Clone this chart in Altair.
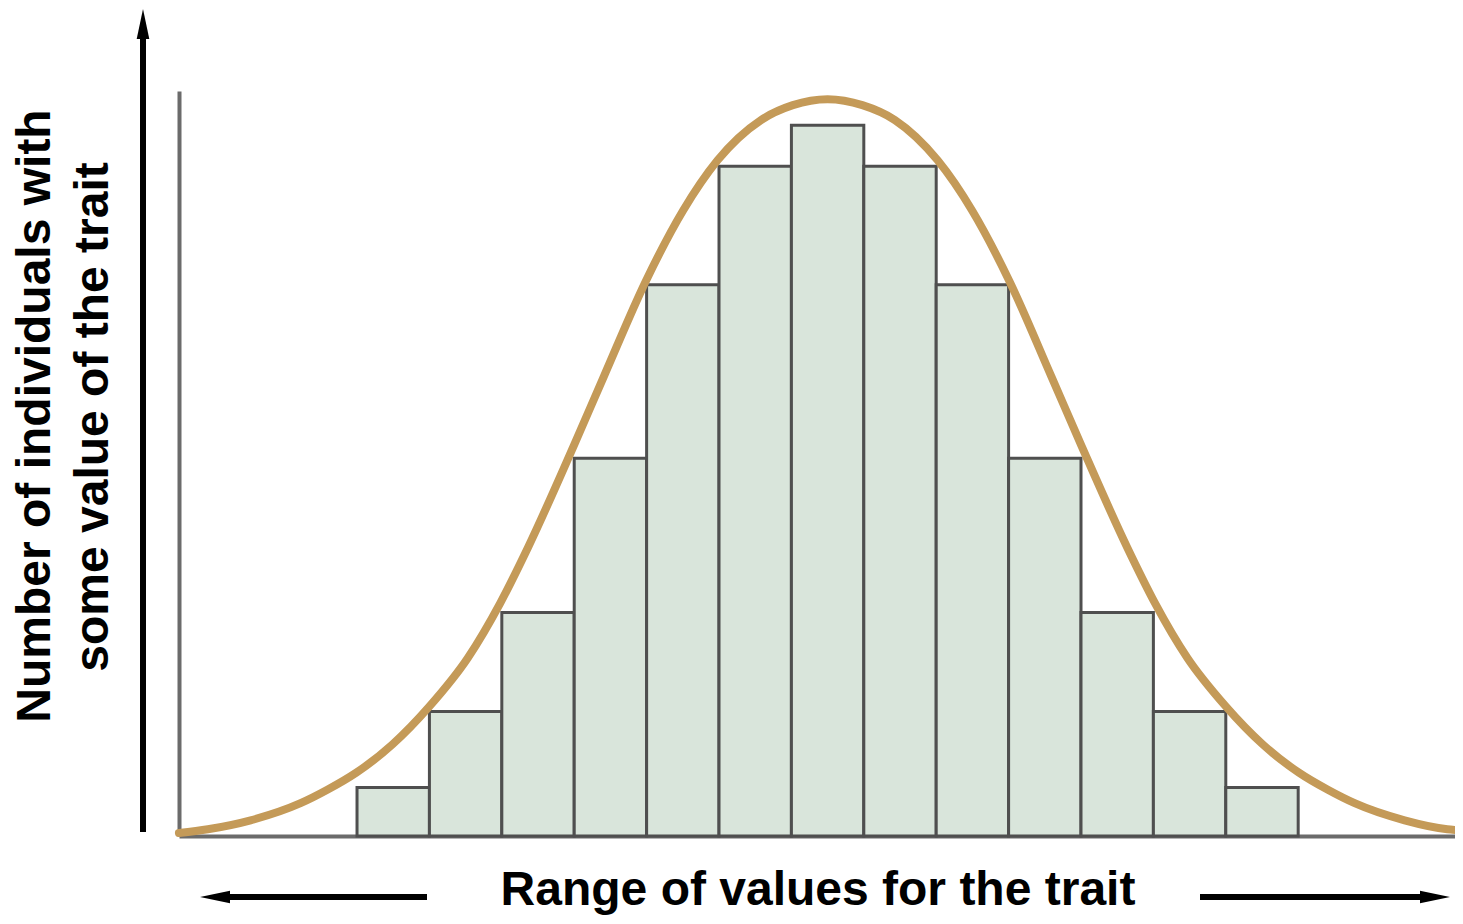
import altair as alt
import pandas as pd

# ---- data ----
# histogram classes (trait value bins) and the number of individuals in each
bin_start = [0, 1, 2, 3, 4, 5, 6, 7, 8, 9, 10, 11, 12]
bin_end = [1, 2, 3, 4, 5, 6, 7, 8, 9, 10, 11, 12, 13]
counts = [6.5, 16.7, 30.0, 50.7, 74.0, 89.9, 95.4, 89.9, 74.0, 50.7, 30.0, 16.7, 6.5]

# smooth distribution curve
curve_x = [-2.46, -2.06, -1.47, -0.78, -0.41, -0.01, 0.49, 1.0, 1.53, 1.98, 2.36, 2.99,
           3.41, 3.99, 4.5, 4.98, 5.58, 6.02, 6.5, 6.98, 7.43, 8.02, 8.5, 9.01, 9.59,
           10.01, 10.64, 11.02, 11.47, 12.0, 12.51, 13.01, 13.41, 13.78, 14.47, 15.06, 15.17]
curve_y = [0.4, 0.9, 2.1, 4.4, 6.2, 8.5, 12.3, 17.4, 23.9, 31.3, 38.7, 52.3,
           61.7, 74.5, 83.9, 90.7, 96.1, 98.1, 98.9, 98.1, 96.1, 90.7, 83.9, 74.5, 61.7,
           52.3, 38.7, 31.3, 23.9, 17.4, 12.3, 8.5, 6.2, 4.4, 2.1, 0.9, 0.8]

y_title_lines = ["Number of individuals with", "some value of the trait"]
x_title = ["Range of values for the trait"]

X_DOMAIN = [-2.459, 15.166]
Y_DOMAIN = [0, 100]

# ---- styles ----
FONT = "Liberation Sans"
BAR_FILL = "#d9e5db"
BAR_STROKE = "#4f4f4f"
CURVE = "#c49a58"
AXIS_GRAY = "#6b6b6b"

xs = alt.Scale(domain=X_DOMAIN, nice=False, zero=False)
ys = alt.Scale(domain=Y_DOMAIN, nice=False, zero=True)
ax = alt.Axis(title=None, labels=False, ticks=False, grid=False,
              domainColor=AXIS_GRAY, domainWidth=4)

bars_df = pd.DataFrame({"start": bin_start, "end": bin_end, "count": counts,
                        "base": [0] * len(counts)})
curve_df = pd.DataFrame({"x": curve_x, "y": curve_y})

bars = alt.Chart(bars_df).mark_rect(
    fill=BAR_FILL, stroke=BAR_STROKE, strokeWidth=3
).encode(
    x=alt.X("start:Q", scale=xs, axis=ax),
    x2="end:Q",
    y=alt.Y("count:Q", scale=ys, axis=ax),
    y2="base:Q",
)

curve = alt.Chart(curve_df).mark_line(
    color=CURVE, strokeWidth=8, interpolate="monotone", strokeCap="round"
).encode(
    x=alt.X("x:Q", scale=xs, axis=ax),
    y=alt.Y("y:Q", scale=ys, axis=ax),
)

one = pd.DataFrame({"k": [0]})

# decorative arrows (pixel positions relative to the plot area)
v_shaft = alt.Chart(one).mark_rule(color="black", strokeWidth=6).encode(
    x=alt.value(-36), y=alt.value(741), y2=alt.value(-60))
v_head = alt.Chart(one).mark_point(
    shape="M0,-1L0.42,1L-0.42,1Z", size=900, filled=True, color="black",
    opacity=1, strokeWidth=0
).encode(x=alt.value(-36), y=alt.value(-67))

l_shaft = alt.Chart(one).mark_rule(color="black", strokeWidth=6).encode(
    x=alt.value(248), x2=alt.value(48), y=alt.value(806))
l_head = alt.Chart(one).mark_point(
    shape="M-1,0L1,-0.42L1,0.42Z", size=900, filled=True, color="black",
    opacity=1, strokeWidth=0
).encode(x=alt.value(36), y=alt.value(806))

r_shaft = alt.Chart(one).mark_rule(color="black", strokeWidth=6).encode(
    x=alt.value(1021), x2=alt.value(1244), y=alt.value(806))
r_head = alt.Chart(one).mark_point(
    shape="M1,0L-1,-0.42L-1,0.42Z", size=900, filled=True, color="black",
    opacity=1, strokeWidth=0
).encode(x=alt.value(1256), y=alt.value(806))

txt = dict(font=FONT, fontSize=48, fontWeight="bold", color="black",
           align="center", baseline="alphabetic")

xt = alt.Chart(pd.DataFrame({"label": x_title})).mark_text(**txt).encode(
    text="label:N", x=alt.value(639), y=alt.value(814))
yt1 = alt.Chart(pd.DataFrame({"label": [y_title_lines[0]]})).mark_text(angle=270, **txt).encode(
    text="label:N", x=alt.value(-129), y=alt.value(325))
yt2 = alt.Chart(pd.DataFrame({"label": [y_title_lines[1]]})).mark_text(angle=270, **txt).encode(
    text="label:N", x=alt.value(-71), y=alt.value(326))

chart = alt.layer(
    bars, curve, v_shaft, v_head, l_shaft, l_head, r_shaft, r_head, xt, yt1, yt2
).properties(
    width=1276, height=745,
    padding={"left": 171, "top": 83, "right": 0, "bottom": 80},
    autosize=alt.AutoSizeParams(type="none"),
).configure_view(stroke=None)

chart.save("out.html", embed_options={"renderer": "svg", "actions": False})
